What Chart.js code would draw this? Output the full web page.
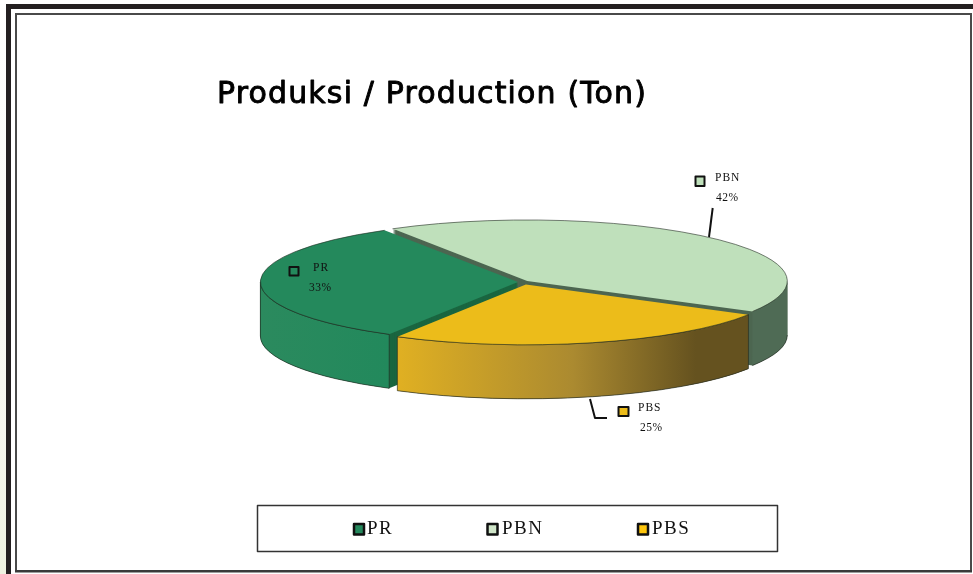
<!DOCTYPE html>
<html><head><meta charset="utf-8">
<style>
html,body{margin:0;padding:0;background:#fff;width:973px;height:574px;overflow:hidden}
#wrap{position:absolute;left:0;top:0;width:973px;height:574px}
canvas{display:block;filter:blur(0.4px)}
</style>
<script src="https://cdn.jsdelivr.net/npm/chart.js@4"></script>
</head><body>
<div id="wrap"><canvas id="c" width="973" height="574"></canvas></div>
<script>
const titleText = 'Produksi / Production (Ton)';
const categories = ['PR', 'PBN', 'PBS'];
const shares = [33, 42, 25];
const topColors = ['#24895c', '#bfe0bb', '#ecbc1a'];
const legendColors = ['#24895c', '#cfe5c8', '#fdc50c'];
const cutColors = ['#1a6640', '#4d6651', '#6a5420'];
const wallStops = [
  [[0, '#2b8a5e'], [1, '#22895c']],
  [[0, '#4f6b55'], [1, '#4f6b55']],
  [[0, '#e0b022'], [0.5, '#ab8a30'], [0.85, '#65521f'], [1, '#65521f']]
];
const sliceOffsets = [20, 24, 44];
const drawOrder = [1, 0, 2];

const SQUASH = 0.2346, DEPTH = 54;

function geom(arc, i) {
  const off = sliceOffsets[i] / 4;
  const mid = (arc.startAngle + arc.endAngle) / 2;
  const fix = 1 - Math.sin(Math.min(Math.PI, arc.circumference));
  return {
    x: arc.x + Math.cos(mid) * off,
    y: arc.y + Math.sin(mid) * off * SQUASH,
    r: arc.outerRadius + off * fix,
    a0: arc.startAngle, a1: arc.endAngle
  };
}
function visibleRange(a0, a1) {
  const T = Math.PI * 2;
  for (let k = -1; k < 3; k++) {
    const s = Math.max(a0, k * T), e = Math.min(a1, k * T + Math.PI);
    if (e > s) return [s, e];
  }
  return null;
}

const pie3d = {
  id: 'pie3d',
  beforeDatasetsDraw(chart) {
    const ctx = chart.ctx;
    const arcs = chart.getDatasetMeta(0).data;
    const cx = arcs[0].x, cy = arcs[0].y;
    for (const i of drawOrder) {
      const arc = arcs[i], g = geom(arc, i);
      const sv = arc.options.backgroundColor;
      ctx.save();
      ctx.translate(cx, cy); ctx.scale(1, SQUASH); ctx.translate(-cx, -cy);
      arc.options.backgroundColor = cutColors[i];
      for (let d = DEPTH; d >= 1; d--) {
        ctx.save();
        ctx.translate(0, d / SQUASH);
        arc.draw(ctx);
        ctx.restore();
      }
      arc.options.backgroundColor = sv;
      ctx.restore();
      const vis = visibleRange(g.a0, g.a1);
      if (vis) {
        const x0 = g.x + Math.cos(vis[1]) * g.r, x1 = g.x + Math.cos(vis[0]) * g.r;
        const grad = ctx.createLinearGradient(x0, 0, x1, 0);
        wallStops[i].forEach(s => grad.addColorStop(s[0], s[1]));
        ctx.beginPath();
        ctx.ellipse(g.x, g.y, g.r, g.r * SQUASH, 0, vis[0], vis[1]);
        ctx.ellipse(g.x, g.y + DEPTH, g.r, g.r * SQUASH, 0, vis[1], vis[0], true);
        ctx.closePath();
        ctx.fillStyle = grad; ctx.fill();
        ctx.lineWidth = 1; ctx.strokeStyle = 'rgba(35,45,35,.65)';
        if (i !== 1) {
          ctx.stroke();
        } else {
          ctx.beginPath();
          ctx.ellipse(g.x, g.y + DEPTH, g.r, g.r * SQUASH, 0, vis[0], vis[1]);
          ctx.stroke();
        }
      }
    }
    ctx.save();
    ctx.translate(cx, cy); ctx.scale(1, SQUASH); ctx.translate(-cx, -cy);
  },
  afterDatasetsDraw(chart) {
    const ctx = chart.ctx;
    ctx.restore();
    const arcs = chart.getDatasetMeta(0).data;
    for (const i of drawOrder) {
      const g = geom(arcs[i], i);
      ctx.beginPath();
      ctx.ellipse(g.x, g.y, g.r, g.r * SQUASH, 0, g.a0, g.a1);
      ctx.lineWidth = 1; ctx.strokeStyle = 'rgba(35,45,35,.6)'; ctx.stroke();
    }
    drawAnnotations(chart);
  }
};

function box(ctx, x, y, w, h, fill, lw) {
  ctx.fillStyle = fill; ctx.fillRect(x, y, w, h);
  ctx.lineWidth = lw; ctx.strokeStyle = '#111'; ctx.strokeRect(x, y, w, h);
}
function label(ctx, text, x, y, font, ls) {
  ctx.font = font; ctx.letterSpacing = ls; ctx.fillStyle = '#111';
  ctx.textAlign = 'left'; ctx.textBaseline = 'middle';
  ctx.fillText(text, x, y);
  ctx.letterSpacing = '0px';
}
const leaderPBN = [[712.7, 208], [709, 237]];
const leaderPBS = [[590, 399], [595, 418], [607, 418]];
const tagBoxes = [[289.5, 267, 9, 8.5], [695.5, 176.5, 9, 9.5], [618.5, 407, 10, 9]];
const tagNames = [[313, 268], [715, 178], [638, 408]];
const tagPcts = [[309, 288], [716, 198], [640, 428]];
const legendBoxes = [354, 487.5, 638];
const legendTexts = [367, 502, 652];

function drawAnnotations(chart) {
  const ctx = chart.ctx;
  const total = shares.reduce((a, b) => a + b, 0);
  ctx.save();
  ctx.font = '30px "DejaVu Sans"';
  ctx.letterSpacing = '0px';
  const natural = ctx.measureText(titleText).width;
  ctx.letterSpacing = ((430 - natural) / titleText.length).toFixed(2) + 'px';
  ctx.fillStyle = '#000'; ctx.strokeStyle = '#000'; ctx.lineWidth = 0.9; ctx.lineJoin = 'round';
  ctx.textAlign = 'left'; ctx.textBaseline = 'alphabetic';
  ctx.fillText(titleText, 217, 103);
  ctx.strokeText(titleText, 217, 103);
  ctx.letterSpacing = '0px';
  ctx.strokeStyle = '#111'; ctx.lineWidth = 2;
  for (const line of [leaderPBN, leaderPBS]) {
    ctx.beginPath();
    line.forEach((p, k) => k ? ctx.lineTo(p[0], p[1]) : ctx.moveTo(p[0], p[1]));
    ctx.stroke();
  }
  categories.forEach((name, i) => {
    const b = tagBoxes[i];
    box(ctx, b[0], b[1], b[2], b[3], topColors[i], 2);
    label(ctx, name, tagNames[i][0], tagNames[i][1], '11.5px "Liberation Serif"', '1px');
    label(ctx, Math.round(shares[i] / total * 100) + '%', tagPcts[i][0], tagPcts[i][1], '11.5px "Liberation Serif"', '0.5px');
  });
  ctx.lineWidth = 1.5; ctx.strokeStyle = '#333';
  ctx.strokeRect(257.5, 505.5, 520, 46);
  categories.forEach((name, i) => {
    box(ctx, legendBoxes[i], 524, 10, 10.5, legendColors[i], 2.5);
    label(ctx, name, legendTexts[i], 529, '19px "Liberation Serif"', '1.5px');
  });
  ctx.restore();
}

const frame = {
  id: 'frame',
  beforeDraw(chart) {
    const ctx = chart.ctx;
    ctx.save();
    ctx.fillStyle = '#fff'; ctx.fillRect(0, 0, 973, 574);
    const g = ctx.createLinearGradient(0, 0, 0, 574);
    g.addColorStop(0, '#fff'); g.addColorStop(0.75, '#f6f6ee'); g.addColorStop(1, '#eef2e0');
    ctx.fillStyle = g; ctx.fillRect(0, 0, 6, 574);
    ctx.fillStyle = '#231f20';
    ctx.fillRect(6, 4, 967, 5);
    ctx.fillRect(6, 4, 5, 570);
    ctx.fillStyle = '#4a4a4a';
    ctx.fillRect(15, 13, 956, 2);
    ctx.fillRect(15, 13, 2, 559);
    ctx.fillRect(970, 13, 2, 559);
    ctx.fillStyle = '#3a3a3a';
    ctx.fillRect(15, 570, 957, 2.5);
    ctx.restore();
  }
};

new Chart(document.getElementById('c'), {
  type: 'pie',
  data: {
    labels: categories,
    datasets: [{
      data: shares,
      backgroundColor: topColors,
      borderWidth: 0,
      offset: sliceOffsets
    }]
  },
  options: {
    responsive: false,
    animation: false,
    rotation: 210,
    radius: 257,
    layout: { padding: { left: 73, bottom: 10 } },
    plugins: { legend: { display: false }, tooltip: { enabled: false }, title: { display: false } }
  },
  plugins: [frame, pie3d]
});
</script>
</body></html>
